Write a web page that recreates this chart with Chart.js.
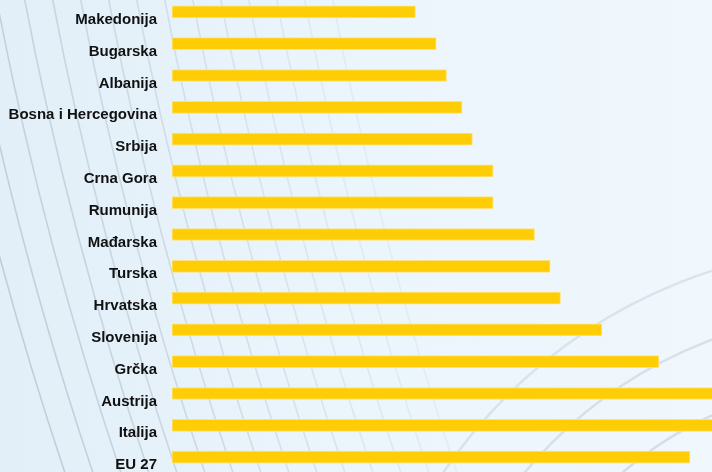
<!DOCTYPE html>
<html>
<head>
<meta charset="utf-8">
<script src="https://cdn.jsdelivr.net/npm/chart.js@4/dist/chart.umd.min.js"></script>
<style>
  html, body { margin: 0; padding: 0; overflow: hidden; background: #e8f3fb; }
  #wrap { position: absolute; left: 0; top: -4px; width: 712px; height: 477px; }
</style>
</head>
<body>
<div id="wrap"><canvas id="chart"></canvas></div>
<script>
// Podaci
const zemlje = ['Makedonija', 'Bugarska', 'Albanija', 'Bosna i Hercegovina', 'Srbija',
    'Crna Gora', 'Rumunija', 'Mađarska', 'Turska', 'Hrvatska', 'Slovenija', 'Grčka',
    'Austrija', 'Italija', 'EU 27'];
const vrijednosti = [47, 51, 53, 56, 58, 62, 62, 70, 73, 75, 83, 94, 120, 115, 100];
const xMin = 0;
const xMax = 104.25;

// Pozadina s lukovima
const pozadina = {
    id: 'pozadina',
    beforeDraw(chart) {
        const ctx = chart.ctx;
        const w = chart.width, h = chart.height;
        ctx.save();
        const g = ctx.createLinearGradient(0, 0, w, 0);
        g.addColorStop(0, '#e2eff8');
        g.addColorStop(0.5, '#ebf5fc');
        g.addColorStop(1, '#f0f7fd');
        ctx.fillStyle = g;
        ctx.fillRect(0, 0, w, h);

        // kose linije lijevo
        ctx.lineWidth = 1.6;
        for (let k = 0; k < 15; k++) {
            const x0 = -60 + k * 28;
            const a = Math.max(0.05, 0.32 - k * 0.017);
            ctx.strokeStyle = 'rgba(120,135,155,' + a + ')';
            ctx.beginPath();
            ctx.moveTo(x0, 0);
            ctx.quadraticCurveTo(x0 + 45, h * 0.5, x0 + 125, h);
            ctx.stroke();
        }

        // lukovi dolje desno
        ctx.lineWidth = 2.5;
        const radii = [310, 380, 450, 515];
        radii.forEach((r, i) => {
            ctx.strokeStyle = 'rgba(140,155,175,' + (0.3 - i * 0.03) + ')';
            ctx.beginPath();
            ctx.arc(870, 765, r, Math.PI, Math.PI * 1.5);
            ctx.stroke();
        });
        ctx.restore();
    }
};

const ctx = document.getElementById('chart').getContext('2d');
const chart = new Chart(ctx, {
    type: 'bar',
    data: {
        labels: zemlje,
        datasets: [{
            data: vrijednosti,
            backgroundColor: '#ffcd05',
            borderColor: '#ffe37a',
            borderWidth: 1,
            borderSkipped: false,
            barThickness: 12
        }]
    },
    options: {
        indexAxis: 'y',
        responsive: true,
        maintainAspectRatio: false,
        animation: false,
        layout: { padding: 0 },
        plugins: {
            legend: { display: false },
            tooltip: { enabled: false }
        },
        scales: {
            x: {
                display: false,
                min: xMin,
                max: xMax
            },
            y: {
                grid: { display: false, drawTicks: false },
                border: { display: false },
                ticks: {
                    color: '#111111',
                    padding: 15,
                    labelOffset: 8,
                    font: { family: '"Liberation Sans", Arial, sans-serif', size: 15, weight: 'bold' }
                },
                afterFit(scale) {
                    scale.width = 172;
                    scale.paddingTop = 0;
                    scale.paddingBottom = 0;
                }
            }
        }
    },
    plugins: [pozadina]
});
</script>
</body>
</html>
